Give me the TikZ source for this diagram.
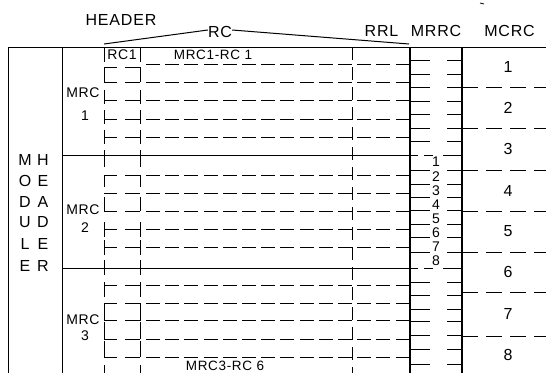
\documentclass[tikz,border=0pt]{standalone}
\usepackage{fontspec}
\setmainfont{Liberation Sans}
\newfontfamily\lsA[LetterSpace=5]{Liberation Sans}
\newfontfamily\lsB[LetterSpace=4]{Liberation Sans}
\begin{document}
\begin{tikzpicture}[x=1pt,y=-1pt,
  ln/.style={line width=1pt,black},
  thickln/.style={line width=1.3pt,black},
  hdash/.style={line width=1pt,black,dash pattern=on 14pt off 5.2pt},
  mdash/.style={line width=1pt,black,dash pattern=on 16pt off 8pt},
  vdash/.style={line width=1pt,black,dash pattern=on 13pt off 7pt},
  hdr/.style={inner sep=0pt,font={\lsA\fontsize{16pt}{16pt}\selectfont}},
  side/.style={inner sep=0pt,font={\fontsize{16pt}{16pt}\selectfont}},
  lbl/.style={inner sep=0pt,font={\lsB\fontsize{14pt}{14pt}\selectfont}},
  small/.style={inner sep=0pt,font={\lsA\fontsize{13.5pt}{13.5pt}\selectfont}},
  dig/.style={inner sep=0pt,font={\fontsize{14pt}{14pt}\selectfont}},
  bigdig/.style={inner sep=0pt,font={\fontsize{16pt}{16pt}\selectfont}}]
\useasboundingbox (0,0) rectangle (546,373);

% header labels
\node[hdr] (header) at (121,20) {HEADER};
\node[hdr] (rc) at (220,32) {RC};
\node[hdr] (rrl) at (381.5,31) {RRL};
\node[hdr] (mrrc) at (436,31) {MRRC};
\node[hdr] (mcrc) at (509.5,31) {MCRC};
\coordinate (rcL) at (104,44);
\coordinate (rcR) at (409,44);
\draw[ln] (rcL) -- ([yshift=2pt]rc.west);
\draw[ln] ([yshift=2pt]rc.east) -- (rcR);
\draw[line width=0.8pt] (480,3) -- (484,4);

% frame
\draw[ln] (8,47) -- (546,47);
\draw[ln] (8,47) -- (8,373);
\draw[ln] (62,47) -- (62,373);
\draw[ln] (62,155) -- (410,155);
\draw[ln] (62,268) -- (410,268);
\draw[vdash] (352,47) -- (352,373);
\draw[thickln] (410,47) -- (410,373);
\draw[thickln] (462,47) -- (462,373);

% row lines
\foreach \y in {64,82.3,100.7,119,137.3,175,193.5,211,229,247.3,285,303.3,320.7,339,357.3}
  \draw[hdash] (146,\y) -- (410,\y);
% RC1 column horizontals
\foreach \y in {67,82.3,100.7,119,137.3,175,193.5,211,229,247.3,285,303.3,320.7,339,357.3}
  {\draw[ln] (104,\y) -- (116.5,\y); \draw[ln] (125,\y) -- (140,\y);}
% RC1 column vertical segments
\foreach \a/\b in {48/61.7,67/82.3,90/104,110/124,130/144,150/167,175/187,197/211,222/237,240/255,260/275,282/297,303.3/320.7,322/339,341/357.3,365/373}
  {\draw[ln] (104,\a) -- (104,\b); \draw[ln] (140,\a) -- (140,\b);}

% MRRC ticks
\foreach \y in {60.5,74,87.5,101,114.5,128,141.5,170.7,184.3,197.7,210.5,224,237.7,252.3,282,295.5,309.3,321.5,335.5,349,364.3}
  {\draw[ln] (410,\y) -- (430,\y); \draw[ln] (447,\y) -- (462,\y);}
\foreach \y in {155,268}
  {\draw[ln] (410,\y) -- (418,\y); \draw[ln] (424,\y) -- (433,\y); \draw[ln] (443,\y) -- (462,\y);}

% MCRC separators
\foreach \y in {87.5,128,170.7,211,252,292.5,336}
  \draw[mdash] (462,\y) -- (546,\y);

% MCRC numbers
\foreach \n/\y in {1/67,2/108,3/149,4/191,5/231,6/272,7/314,8/355}
  \node[bigdig] (mc\n) at (508,\y) {\n};

% MRRC numbers
\foreach \n in {1,...,8}
  \node[dig] (mr\n) at (436,{155+(\n-0.5)*14.1}) {\n};

% MODULE HEADER
\foreach \a/\b/\y [count=\i] in {M/H/160,O/E/181,D/A/202,U/D/222,L/E/244,E/R/266}
  {\node[side] (ma\i) at (25,\y) {\a}; \node[side] (mb\i) at (43,\y) {\b};}

% MRC labels
\node[lbl] (mrc1) at (83,93) {MRC};
\node[lbl] (n1) at (85,116) {1};
\node[lbl] (mrc2) at (83,210) {MRC};
\node[lbl] (n2) at (85,228) {2};
\node[lbl] (mrc3) at (83,320) {MRC};
\node[lbl] (n3) at (85,336) {3};

\node[lbl] (rc1) at (122,54.5) {RC1};
\node[small] (first) at (213,55) {MRC1-RC 1};
\node[small] (last) at (225,366) {MRC3-RC 6};
\end{tikzpicture}
\end{document}
